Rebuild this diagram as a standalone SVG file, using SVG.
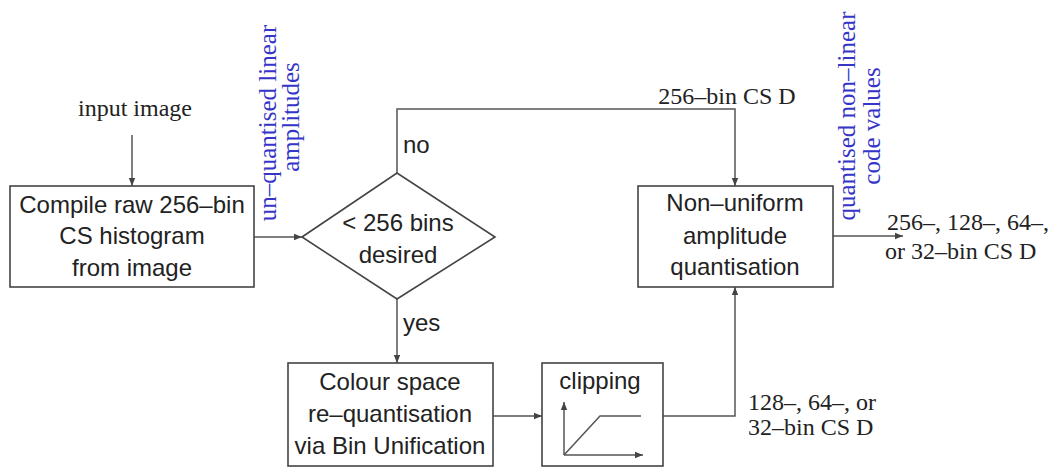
<svg xmlns="http://www.w3.org/2000/svg" width="1063" height="468" viewBox="0 0 1063 468">
<defs>
<marker id="ah" viewBox="0 0 10 10" refX="10" refY="5" markerWidth="8" markerHeight="8" markerUnits="userSpaceOnUse" orient="auto">
<path d="M0,1 L10,5 L0,9 z" fill="#444"/>
</marker>
</defs>
<style>
.box{fill:#fff;stroke:#444;stroke-width:1.6}
.ln{fill:none;stroke:#555;stroke-width:1.5}
.sans{font-family:"Liberation Sans",Arial,sans-serif;font-size:24px;fill:#222}
.serif{font-family:"Liberation Serif","Times New Roman",serif;font-size:24px;fill:#222}
.blue{font-family:"Liberation Serif","Times New Roman",serif;font-size:25px;fill:#3535c8}
.mid{text-anchor:middle}
</style>
<rect width="1063" height="468" fill="#fff"/>
<g id="connectors">
<line class="ln" x1="132" y1="135" x2="132" y2="186" marker-end="url(#ah)"/>
<line class="ln" x1="254" y1="237" x2="302" y2="237" marker-end="url(#ah)"/>
<polyline class="ln" points="397,173 397,109 735,109 735,186" marker-end="url(#ah)"/>
<line class="ln" x1="397" y1="299" x2="397" y2="363" marker-end="url(#ah)"/>
<line class="ln" x1="493" y1="416" x2="542" y2="416" marker-end="url(#ah)"/>
<polyline class="ln" points="663,416 735,416 735,287" marker-end="url(#ah)"/>
<line class="ln" x1="833" y1="236" x2="903" y2="236" marker-end="url(#ah)"/>
</g>
<g id="input-label"><text class="serif mid" x="135" y="116">input image</text></g>
<g id="label-unquantised">
<text class="blue mid" transform="translate(276,123) rotate(-90)">un–quantised linear</text>
<text class="blue mid" transform="translate(299,117) rotate(-90)">amplitudes</text>
</g>
<g id="label-quantised">
<text class="blue mid" transform="translate(855,116) rotate(-90)">quantised non–linear</text>
<text class="blue mid" transform="translate(880,126) rotate(-90)">code values</text>
</g>
<g id="compile">
<rect class="box" x="10" y="186" width="244" height="101"/>
<text class="sans mid" x="132" y="213">Compile raw 256–bin</text>
<text class="sans mid" x="132" y="244">CS histogram</text>
<text class="sans mid" x="132" y="276">from image</text>
</g>
<g id="decision">
<polygon class="box" points="302,237 397,173 495,237 397,299"/>
<text class="sans mid" x="398" y="231">&lt; 256 bins</text>
<text class="sans mid" x="398" y="263">desired</text>
</g>
<g id="label-no"><text class="sans" x="403" y="153">no</text></g>
<g id="label-yes"><text class="sans" x="403" y="331">yes</text></g>
<g id="label-256"><text class="serif mid" x="727" y="104">256–bin CS D</text></g>
<g id="nonuniform">
<rect class="box" x="638" y="186" width="195" height="101"/>
<text class="sans mid" x="735" y="211">Non–uniform</text>
<text class="sans mid" x="735" y="244">amplitude</text>
<text class="sans mid" x="735" y="275">quantisation</text>
</g>
<g id="label-out">
<text class="serif" x="887" y="230">256–, 128–, 64–,</text>
<text class="serif" x="885" y="259">or 32–bin CS D</text>
</g>
<g id="requant">
<rect class="box" x="288" y="363" width="205" height="103"/>
<text class="sans mid" x="390" y="390">Colour space</text>
<text class="sans mid" x="390" y="422">re–quantisation</text>
<text class="sans mid" x="390" y="454">via Bin Unification</text>
</g>
<g id="clipping">
<rect class="box" x="542" y="363" width="121" height="103"/>
<text class="sans mid" x="600" y="389">clipping</text>
<line class="ln" x1="564" y1="455" x2="564" y2="402" marker-end="url(#ah)"/>
<line class="ln" x1="564" y1="455" x2="643" y2="455" marker-end="url(#ah)"/>
<polyline class="ln" points="564,455 600,416 641,416"/>
</g>
<g id="label-128">
<text class="serif" x="748" y="410">128–, 64–, or</text>
<text class="serif" x="748" y="435">32–bin CS D</text>
</g>
</svg>
